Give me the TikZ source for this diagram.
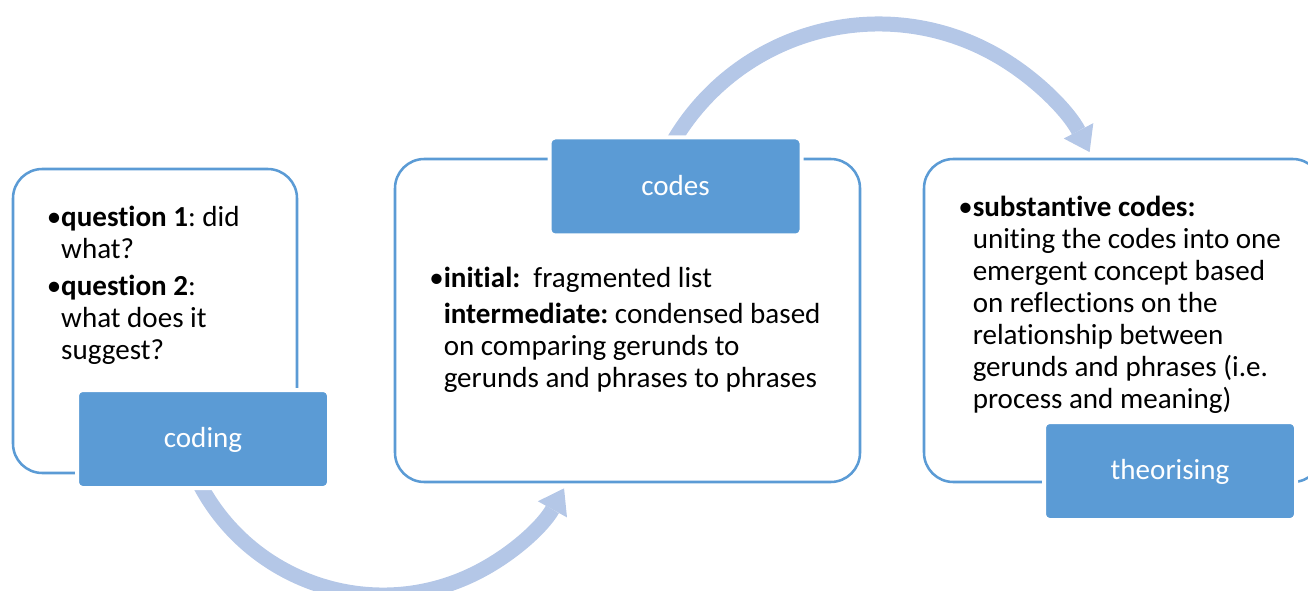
\documentclass[tikz,border=0pt]{standalone}
\usepackage{fontspec}
\setmainfont{Carlito}[Ligatures=NoCommon]
\usetikzlibrary{arrows.meta}
\definecolor{boxblue}{HTML}{5B9BD5}
\definecolor{arrowblue}{HTML}{B4C7E7}
\frenchspacing
\begin{document}
\begin{tikzpicture}[x=0.75pt,y=-0.75pt,
  frame/.style={draw=boxblue, line width=1.9pt, rounded corners=22pt, fill=white, inner sep=0pt},
  tag/.style={fill=boxblue, draw=white, line width=3pt, rounded corners=4pt,
    minimum width=189pt, minimum height=73.5pt, inner sep=0pt, text=white,
    font=\fontsize{21.8}{26}\selectfont, text height=16pt, text depth=3.2pt},
  body/.style={anchor=base west, inner sep=0pt, font=\fontsize{21.8}{24}\selectfont},
  loop/.style={draw=arrowblue, line width=11.25pt,
    -{Triangle[length=18pt,width=25pt,line width=0pt]}}
]
\useasboundingbox (0,0) rectangle (1308,591);
\clip (0,0) rectangle (1308,591);

% centres of the two curved arrows
\coordinate (lowhub) at (383,388);
\coordinate (highhub) at (878.5,262);

% curved arrows between the stages
\draw[loop] ([shift={(155:207)}]lowhub) arc[start angle=155, end angle=29, radius=207];
\draw[loop] ([shift={(-150:238)}]highhub) arc[start angle=-150, end angle=-27.5, radius=238];

% outlined stage frames
\node[frame, minimum width=213pt, minimum height=228pt] (leftframe) at (155,321) {};
\node[frame, minimum width=348.75pt, minimum height=242.25pt] (midframe) at (627.5,320.5) {};
\node[frame, minimum width=298.5pt, minimum height=242.25pt] (rightframe) at (1123,320.5) {};

% filled stage labels
\node[tag] (coding) at (203,439) {coding};
\node[tag] (codes) at (675.5,186.5) {codes};
\node[tag] (theorising) at (1170,471) {theorising};

% stage descriptions
\node[body] (leftnote) at (46.5,227) {\begin{tabular}[t]{@{}l@{}l@{}}
•&\textbf{question 1}: did\\
 &what?\\[3.75pt]
•&\textbf{question 2}:\\
 &what does it\\
 &suggest?
\end{tabular}};

\node[body] (midnote) at (429,287) {\begin{tabular}[t]{@{}l@{}l@{}}
•&\textbf{initial:}~ fragmented list\\[3pt]
 &\textbf{intermediate:} condensed based\\
 &on comparing gerunds to\\
 &gerunds and phrases to phrases
\end{tabular}};

\node[body] (rightnote) at (958,217) {\begin{tabular}[t]{@{}l@{}l@{}}
•&\textbf{substantive codes:}\\
 &uniting the codes into one\\
 &emergent concept based\\
 &on reflections on the\\
 &relationship between\\
 &gerunds and phrases (i.e.\\
 &process and meaning)
\end{tabular}};
\end{tikzpicture}
\end{document}
